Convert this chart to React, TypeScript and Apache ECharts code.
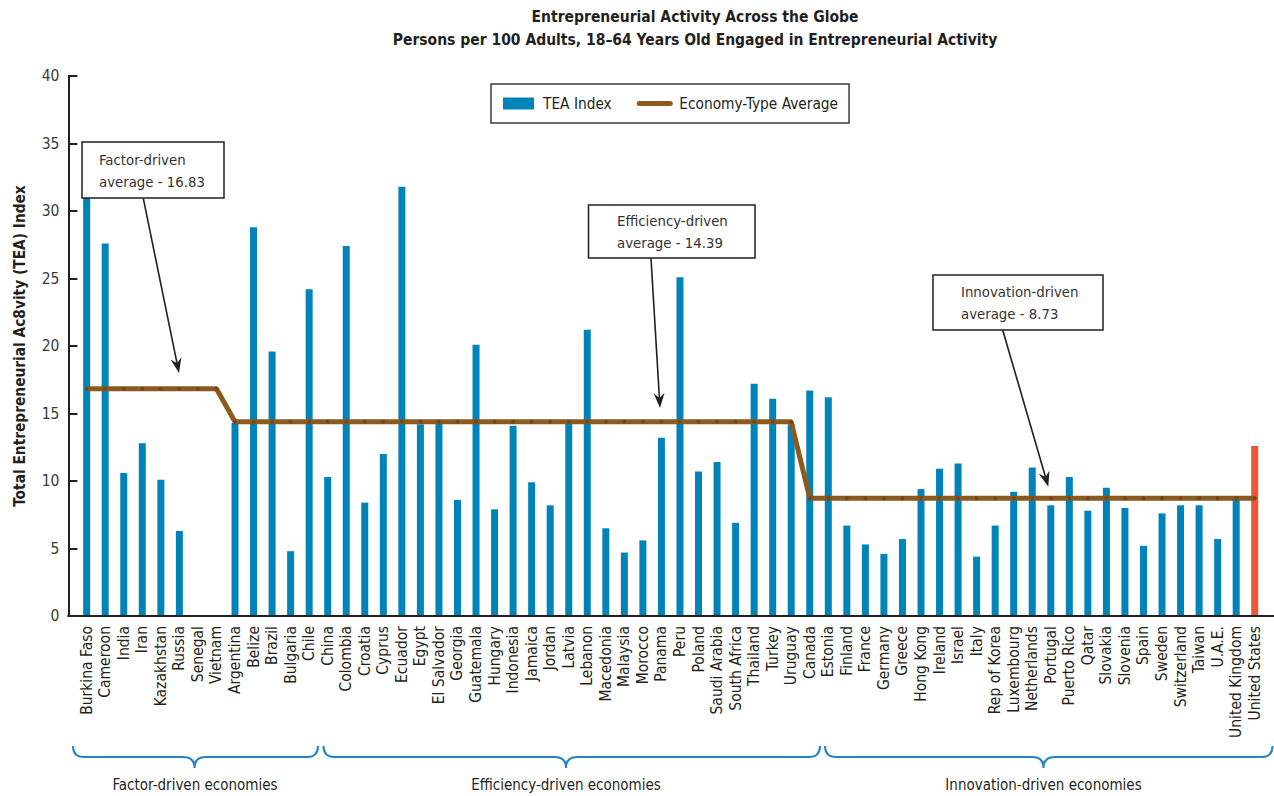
import React, { useEffect, useRef } from 'react';
import * as echarts from 'echarts';

// ---------------- DATA ----------------
const factorCountries = ['Burkina Faso', 'Cameroon', 'India', 'Iran', 'Kazakhstan', 'Russia', 'Senegal', 'Vietnam'];
const factorTEA = [33.0, 27.6, 10.6, 12.8, 10.1, 6.3, null, null];

const efficiencyCountries = ['Argentina', 'Belize', 'Brazil', 'Bulgaria', 'Chile', 'China', 'Colombia', 'Croatia', 'Cyprus', 'Ecuador', 'Egypt', 'El Salvador', 'Georgia', 'Guatemala', 'Hungary', 'Indonesia', 'Jamaica', 'Jordan', 'Latvia', 'Lebanon', 'Macedonia', 'Malaysia', 'Morocco', 'Panama', 'Peru', 'Poland', 'Saudi Arabia', 'South Africa', 'Thailand', 'Turkey', 'Uruguay'];
const efficiencyTEA = [14.3, 28.8, 19.6, 4.8, 24.2, 10.3, 27.4, 8.4, 12.0, 31.8, 14.2, 14.3, 8.6, 20.1, 7.9, 14.1, 9.9, 8.2, 14.3, 21.2, 6.5, 4.7, 5.6, 13.2, 25.1, 10.7, 11.4, 6.9, 17.2, 16.1, 14.2];

const innovationCountries = ['Canada', 'Estonia', 'Finland', 'France', 'Germany', 'Greece', 'Hong Kong', 'Ireland', 'Israel', 'Italy', 'Rep of Korea', 'Luxembourg', 'Netherlands', 'Portugal', 'Puerto Rico', 'Qatar', 'Slovakia', 'Slovenia', 'Spain', 'Sweden', 'Switzerland', 'Taiwan', 'U.A.E.', 'United Kingdom', 'United States'];
const innovationTEA = [16.7, 16.2, 6.7, 5.3, 4.6, 5.7, 9.4, 10.9, 11.3, 4.4, 6.7, 9.2, 11.0, 8.2, 10.3, 7.8, 9.5, 8.0, 5.2, 7.6, 8.2, 8.2, 5.7, 8.6, 12.6];

const factorAverage = 16.83;
const efficiencyAverage = 14.39;
const innovationAverage = 8.73;

const highlightCountry = 'United States';

const seriesNames = ['TEA Index', 'Economy-Type Average'];
const titleLines = [
  'Entrepreneurial Activity Across the Globe',
  'Persons per 100 Adults, 18\u201364 Years Old Engaged in Entrepreneurial Activity',
];
const yAxisTitle = 'Total Entrepreneurial Ac8vity (TEA) Index';
const groupLabels = ['Factor-driven economies', 'Efficiency-driven economies', 'Innovation-driven economies'];
const noteTexts = [
  'Factor-driven\naverage - ' + factorAverage.toFixed(2),
  'Efficiency-driven\naverage - ' + efficiencyAverage.toFixed(2),
  'Innovation-driven\naverage - ' + innovationAverage.toFixed(2),
];

// ---------------- STYLE ----------------
const FONT = "'DejaVu Sans Condensed', 'DejaVu Sans', sans-serif";
const INK = '#231f20';
const BAR_BLUE = '#0083B9';
const BAR_RED = '#EC5537';
const LINE_BROWN = '#8B5A1E';
const BRACE_BLUE = '#1f86c1';

function bracePath(x0: number, x1: number, tip: number, yTop: number, yMid: number, yTip: number, r: number) {
  return `M${x0},${yTop} Q${x0},${yMid} ${x0 + r},${yMid} L${tip - r},${yMid} Q${tip},${yMid} ${tip},${yTip} Q${tip},${yMid} ${tip + r},${yMid} L${x1 - r},${yMid} Q${x1},${yMid} ${x1},${yTop}`;
}

let registered = false;
function registerShapes() {
  if (registered) return;
  registered = true;
  echarts.graphic.registerShape('braceFactor', echarts.graphic.extendPath(bracePath(73, 318, 194.5, 746, 757, 768, 11), {}));
  echarts.graphic.registerShape('braceEfficiency', echarts.graphic.extendPath(bracePath(323.5, 820, 566, 746, 757, 768, 11), {}));
  echarts.graphic.registerShape('braceInnovation', echarts.graphic.extendPath(bracePath(825, 1272.5, 1043.5, 746, 757, 768, 11), {}));
}

function arrow(x1: number, y1: number, x2: number, y2: number) {
  const dx = x2 - x1, dy = y2 - y1;
  const L = Math.hypot(dx, dy);
  const ux = dx / L, uy = dy / L;
  const nx = -uy, ny = ux;
  const head = 15, half = 5.5, notch = 10;
  return [
    { type: 'line', z: 100, shape: { x1, y1, x2: x2 - ux * notch, y2: y2 - uy * notch }, style: { stroke: INK, lineWidth: 1.6 } },
    {
      type: 'polygon', z: 100,
      shape: {
        points: [
          [x2, y2],
          [x2 - ux * head + nx * half, y2 - uy * head + ny * half],
          [x2 - ux * notch, y2 - uy * notch],
          [x2 - ux * head - nx * half, y2 - uy * head - ny * half],
        ],
      },
      style: { fill: INK },
    },
  ];
}

function note(x: number, y: number, w: number, h: number, tx: number, text: string) {
  return [
    { type: 'rect', z: 100, shape: { x, y, width: w, height: h }, style: { fill: '#ffffff', stroke: INK, lineWidth: 1.5 } },
    {
      type: 'text', z: 101, x: tx, y: y + h / 2,
      style: { text, fontFamily: FONT, fontSize: 14.8, fill: '#333333', align: 'left', verticalAlign: 'middle', lineHeight: 22 },
    },
  ];
}

export default function App() {
  const ref = useRef<HTMLDivElement>(null);

  useEffect(() => {
    if (!ref.current) return;
    registerShapes();
    const chart = echarts.init(ref.current, null, { renderer: 'svg' });

    const categories = [...factorCountries, ...efficiencyCountries, ...innovationCountries];
    const teaValues = [...factorTEA, ...efficiencyTEA, ...innovationTEA];
    const teaData = teaValues.map((v, i) =>
      categories[i] === highlightCountry ? { value: v, itemStyle: { color: BAR_RED } } : v
    );
    const avgLine = [
      ...factorCountries.map(() => factorAverage),
      ...efficiencyCountries.map(() => efficiencyAverage),
      ...innovationCountries.map(() => innovationAverage),
    ];

    const option: any = {
      animation: false,
      backgroundColor: '#ffffff',
      title: {
        text: titleLines.join('\n'),
        left: 695,
        top: 5,
        textAlign: 'center',
        padding: 0,
        textStyle: { fontFamily: FONT, fontSize: 15.5, fontWeight: 'bold', color: INK, lineHeight: 23 },
      },
      legend: {
        left: 491,
        top: 84,
        padding: [12, 11, 12, 12],
        borderColor: '#3a3a3a',
        borderWidth: 1.5,
        itemWidth: 31,
        itemHeight: 12,
        itemGap: 25,
        textStyle: { fontFamily: FONT, fontSize: 15.3, color: INK, padding: [0, 0, 0, 4] },
        data: [
          { name: seriesNames[0], icon: 'rect' },
          { name: seriesNames[1], itemStyle: { opacity: 0 }, lineStyle: { width: 5, cap: 'round' } },
        ],
      },
      grid: { left: 77.4, right: 10, top: 76, bottom: 180 },
      xAxis: {
        type: 'category',
        data: categories,
        axisLine: { show: true, lineStyle: { color: INK, width: 2 } },
        axisTick: { show: false },
        axisLabel: { interval: 0, rotate: 90, margin: 10, fontFamily: FONT, fontSize: 15.5, color: INK },
      },
      yAxis: {
        type: 'value',
        min: 0,
        max: 40,
        interval: 5,
        offset: 9,
        name: yAxisTitle,
        nameLocation: 'middle',
        nameGap: 41,
        nameTextStyle: { fontFamily: FONT, fontSize: 15.3, fontWeight: 'bold', color: INK },
        axisLine: { show: true, lineStyle: { color: INK, width: 2 } },
        axisTick: { show: true, inside: true, length: 9, lineStyle: { color: INK, width: 2 } },
        splitLine: { show: false },
        axisLabel: { margin: 9, fontFamily: FONT, fontSize: 15.5, color: '#3a3a3a' },
      },
      series: [
        {
          name: seriesNames[0],
          type: 'bar',
          data: teaData,
          barWidth: 7,
          itemStyle: { color: BAR_BLUE },
          z: 2,
        },
        {
          name: seriesNames[1],
          type: 'line',
          data: avgLine,
          symbol: 'circle',
          symbolSize: 4,
          showSymbol: true,
          lineStyle: { color: LINE_BROWN, width: 5 },
          itemStyle: { color: '#74461a' },
          z: 3,
        },
      ],
      graphic: [
        { type: 'line', z: 50, shape: { x1: 67.4, y1: 616, x2: 1274, y2: 616 }, style: { stroke: INK, lineWidth: 2 } },
        ...note(82, 142, 142, 56, 99, noteTexts[0]),
        ...note(588.5, 205, 166.5, 53, 617, noteTexts[1]),
        ...note(933, 275, 170, 55, 961, noteTexts[2]),
        ...arrow(143.3, 198.3, 179, 373),
        ...arrow(651, 258.3, 660, 408),
        ...arrow(1002.7, 330, 1048.3, 486.7),
        { type: 'braceFactor', x: 0, y: 0, z: 60, style: { stroke: BRACE_BLUE, fill: null, lineWidth: 2 } },
        { type: 'braceEfficiency', x: 0, y: 0, z: 60, style: { stroke: BRACE_BLUE, fill: null, lineWidth: 2 } },
        { type: 'braceInnovation', x: 0, y: 0, z: 60, style: { stroke: BRACE_BLUE, fill: null, lineWidth: 2 } },
        { type: 'text', x: 195, y: 785, z: 60, style: { text: groupLabels[0], fontFamily: FONT, fontSize: 15, fill: INK, align: 'center', verticalAlign: 'middle' } },
        { type: 'text', x: 566, y: 785, z: 60, style: { text: groupLabels[1], fontFamily: FONT, fontSize: 15, fill: INK, align: 'center', verticalAlign: 'middle' } },
        { type: 'text', x: 1043.5, y: 785, z: 60, style: { text: groupLabels[2], fontFamily: FONT, fontSize: 15, fill: INK, align: 'center', verticalAlign: 'middle' } },
      ],
    };

    chart.setOption(option);
    return () => {
      chart.dispose();
    };
  }, []);

  return (
    <div
      ref={ref}
      style={{ position: 'absolute', left: 0, top: 0, width: 1274, height: 796, background: '#ffffff' }}
    />
  );
}
